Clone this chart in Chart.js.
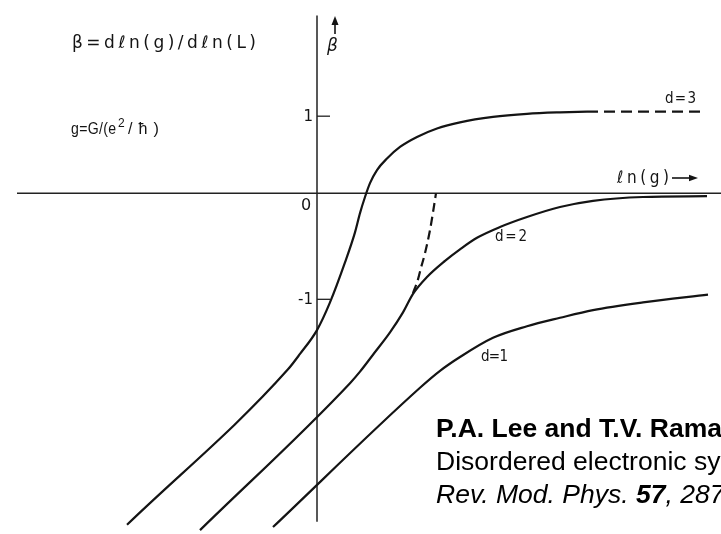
<!DOCTYPE html>
<html>
<head>
<meta charset="utf-8">
<title>Scaling function β(g)</title>
<script src="https://cdn.jsdelivr.net/npm/chart.js@4/dist/chart.umd.min.js"></script>
<style>
  html, body { margin: 0; padding: 0; background: #fff; overflow: hidden; }
  #wrap { position: relative; width: 721px; height: 534px; overflow: hidden; }
  #cite {
    position: absolute; left: 436px; top: 412px;
    font-family: "Liberation Sans", Arial, sans-serif;
    font-size: 26px; line-height: 33px; color: #000; white-space: nowrap;
    transform: scaleX(1.02); transform-origin: 0 0;
  }
</style>
</head>
<body>
<div id="wrap">
  <canvas id="betaChart" width="721" height="534"></canvas>
  <div id="cite">
    <b>P.A. Lee and T.V. Ramakrishnan</b><br>
    Disordered electronic systems<br>
    <i>Rev. Mod. Phys. <b>57</b>, 287 (1985)</i>
  </div>
</div>
<script>
// ln(g) along x, beta along y (hand-drawn schematic units)
const lnG_d3 = [-1.90, -0.29, -0.17, 0.00, 0.13, 0.28, 0.38, 0.43, 0.48, 0.53, 0.60, 0.70, 0.83, 1.00, 1.20, 1.43, 1.76, 2.10, 2.43, 2.70];
const beta_d3 = [-4.31, -2.29, -2.09, -1.78, -1.42, -0.90, -0.51, -0.26, -0.05, 0.13, 0.30, 0.45, 0.60, 0.73, 0.84, 0.92, 0.99, 1.03, 1.05, 1.06];
const lnG_d3Tail = [2.70, 3.83];
const beta_d3Tail = [1.06, 1.06];

const lnG_d2 = [-1.17, 0.33, 0.43, 0.56, 0.73, 0.86, 0.96, 1.10, 1.28, 1.43, 1.60, 1.83, 2.10, 2.43, 2.76, 3.26, 3.90];
const beta_d2 = [-4.38, -2.47, -2.32, -2.10, -1.81, -1.55, -1.31, -1.09, -0.88, -0.73, -0.58, -0.44, -0.31, -0.18, -0.10, -0.05, -0.04];

const lnG_d1 = [-0.44, 1.03, 1.23, 1.43, 1.76, 2.10, 2.43, 2.76, 3.26, 3.91];
const beta_d1 = [-4.34, -2.53, -2.31, -2.13, -1.88, -1.73, -1.62, -1.52, -1.42, -1.32];

// dashed branch leaving the d=2 curve up to beta = 0
const lnG_branch = [0.96, 1.01, 1.04, 1.08, 1.13, 1.16, 1.19];
const beta_branch = [-1.30, -1.12, -0.97, -0.78, -0.48, -0.25, 0.00];

const betaTicks = [1, 0, -1.38];
const betaTickLabels = ['1', '0', '-1'];

const INK = '#141414';

function pts(xs, ys) {
  return xs.map((x, i) => ({ x: x, y: ys[i] }));
}

function curve(xs, ys, dash) {
  return {
    data: pts(xs, ys),
    showLine: true,
    borderColor: INK,
    borderWidth: 2.2,
    borderDash: dash || [],
    pointRadius: 0,
    tension: 0.4,
    cubicInterpolationMode: 'monotone',
    fill: false
  };
}

// stencil-style lettering: optionally condensed, then spaced out to a width
function fitText(ctx, text, x, y, width, squeeze) {
  const k = squeeze || 1;
  ctx.save();
  ctx.translate(x, y);
  ctx.scale(k, 1);
  ctx.letterSpacing = '0px';
  const m = ctx.measureText(text).width;
  const n = [...text].length;
  const gap = n > 1 ? (width / k - m) / (n - 1) : 0;
  ctx.letterSpacing = gap + 'px';
  ctx.fillText(text, 0, 0);
  ctx.restore();
}

function arrowHead(ctx, x, y, dir, len, half) {
  ctx.beginPath();
  if (dir === 'up') {
    ctx.moveTo(x, y);
    ctx.lineTo(x - half, y + len);
    ctx.lineTo(x + half, y + len);
  } else {
    ctx.moveTo(x, y);
    ctx.lineTo(x - len, y - half);
    ctx.lineTo(x - len, y + half);
  }
  ctx.closePath();
  ctx.fill();
}

const axesPlugin = {
  id: 'axesPlugin',
  beforeDatasetsDraw(chart) {
    const ctx = chart.ctx;
    const sx = chart.scales.x, sy = chart.scales.y;
    const x0 = sx.getPixelForValue(0);
    const y0 = sy.getPixelForValue(0);
    ctx.save();
    ctx.strokeStyle = '#222';
    ctx.lineWidth = 1.5;
    ctx.beginPath();
    ctx.moveTo(sx.getPixelForValue(-3.0), y0);
    ctx.lineTo(chart.chartArea.right, y0);
    ctx.moveTo(x0, sy.getPixelForValue(2.31));
    ctx.lineTo(x0, sy.getPixelForValue(-4.27));
    ctx.stroke();

    // tick marks sit on the right of the beta axis
    ctx.lineWidth = 1.3;
    betaTicks.forEach((v) => {
      if (v === 0) return;
      const py = sy.getPixelForValue(v);
      ctx.beginPath();
      ctx.moveTo(x0, py);
      ctx.lineTo(x0 + 13, py);
      ctx.stroke();
    });
    ctx.restore();
  },
  afterDatasetsDraw(chart) {
    const ctx = chart.ctx;
    const sx = chart.scales.x, sy = chart.scales.y;
    const x0 = sx.getPixelForValue(0);
    ctx.save();
    ctx.fillStyle = INK;
    ctx.strokeStyle = INK;
    ctx.textBaseline = 'middle';

    // tick labels
    betaTicks.forEach((v, i) => {
      const py = sy.getPixelForValue(v);
      if (v === 0) {
        ctx.font = '16px "DejaVu Sans"';
        ctx.textAlign = 'center';
        ctx.fillText(betaTickLabels[i], x0 - 11, py + 13);
      } else {
        ctx.font = '15px "DejaVu Sans"';
        ctx.textAlign = 'right';
        ctx.fillText(betaTickLabels[i], x0 - 4, py + 1);
      }
    });

    ctx.textAlign = 'left';
    ctx.textBaseline = 'alphabetic';

    // beta label and arrow at the top of the vertical axis
    ctx.lineWidth = 1.6;
    ctx.beginPath();
    ctx.moveTo(335, 34);
    ctx.lineTo(335, 24);
    ctx.stroke();
    arrowHead(ctx, 335, 16, 'up', 9, 3.5);
    ctx.font = 'italic 17px "DejaVu Sans"';
    ctx.fillText('β', 327, 51);

    // ln(g) label and arrow on the horizontal axis
    ctx.font = '17px "DejaVu Sans"';
    fitText(ctx, 'ℓn(g)', 617, 183, 52, 0.9);
    ctx.beginPath();
    ctx.moveTo(672, 178);
    ctx.lineTo(690, 178);
    ctx.stroke();
    arrowHead(ctx, 698, 178, 'right', 9, 3.2);

    // definitions
    ctx.font = '17px "DejaVu Sans"';
    fitText(ctx, 'β=dℓn(g)/dℓn(L)', 72, 48, 184);
    ctx.font = '16px "Liberation Sans"';
    fitText(ctx, 'g=G/(e', 71, 134, 45, 0.88);
    ctx.font = '12px "Liberation Sans"';
    ctx.fillText('2', 118, 127);
    ctx.font = '17px "Liberation Sans"';
    fitText(ctx, '/ħ)', 128, 134, 31, 0.95);

    // curve labels
    ctx.font = '15px "DejaVu Sans"';
    fitText(ctx, 'd=3', 665, 103, 31, 0.9);
    fitText(ctx, 'd=2', 495, 241, 32, 0.9);
    fitText(ctx, 'd=1', 481, 361, 27, 0.9);
    ctx.restore();
  }
};

new Chart(document.getElementById('betaChart'), {
  type: 'scatter',
  data: {
    datasets: [
      curve(lnG_d3, beta_d3),
      curve(lnG_d3Tail, beta_d3Tail, [11, 6]),
      curve(lnG_d2, beta_d2),
      curve(lnG_d1, beta_d1),
      curve(lnG_branch, beta_branch, [9, 5])
    ]
  },
  options: {
    responsive: false,
    animation: false,
    layout: { padding: 0 },
    plugins: { legend: { display: false }, tooltip: { enabled: false } },
    scales: {
      x: { type: 'linear', min: -3.17, max: 4.04, display: false },
      y: { type: 'linear', min: -4.43, max: 2.51, display: false }
    }
  },
  plugins: [axesPlugin]
});
</script>
</body>
</html>
